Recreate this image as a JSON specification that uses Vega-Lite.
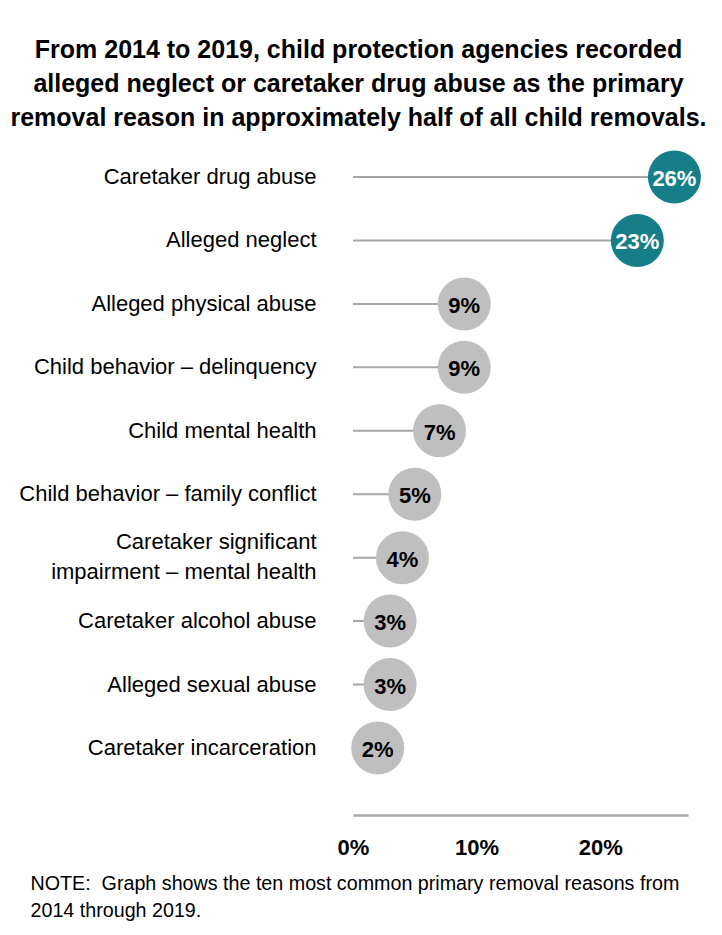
{
  "$schema": "https://vega.github.io/schema/vega-lite/v6.json",
  "autosize": {"type": "none"},
  "width": 335,
  "height": 634.4,
  "padding": {"left": 353, "top": 145.3, "right": 34, "bottom": 155.3},
  "background": "white",
  "config": {
    "view": {"stroke": null},
    "font": "Liberation Sans, Arial, sans-serif"
  },
  "title": {
    "text": ["From 2014 to 2019, child protection agencies recorded", "alleged neglect or caretaker drug abuse as the primary", "removal reason in approximately half of all child removals."],
    "fontSize": 25,
    "lineHeight": 34,
    "fontWeight": "bold",
    "color": "black",
    "anchor": "middle",
    "frame": "group",
    "dx": -162,
    "offset": 14
  },
  "data": {
    "values": [
      {"reason": "Caretaker drug abuse", "pct": 0.26},
      {"reason": "Alleged neglect", "pct": 0.23},
      {"reason": "Alleged physical abuse", "pct": 0.09},
      {"reason": "Child behavior – delinquency", "pct": 0.09},
      {"reason": "Child mental health", "pct": 0.07},
      {"reason": "Child behavior – family conflict", "pct": 0.05},
      {"reason": "Caretaker significant|impairment – mental health", "pct": 0.04},
      {"reason": "Caretaker alcohol abuse", "pct": 0.03},
      {"reason": "Alleged sexual abuse", "pct": 0.03},
      {"reason": "Caretaker incarceration", "pct": 0.02}
    ]
  },
  "encoding": {
    "y": {
      "field": "reason",
      "type": "nominal",
      "sort": null,
      "scale": {"paddingInner": 0, "paddingOuter": 0},
      "axis": {
        "title": null,
        "domain": false,
        "ticks": false,
        "labelPadding": 37,
        "labelFontSize": 22,
        "labelColor": "black",
        "labelLimit": 400,
        "labelLineHeight": 30,
        "labelOffset": {"condition": {"test": "indexof(datum.value, '|') >= 0", "value": -16}, "value": 0},
        "labelExpr": "split(datum.label, '|')"
      }
    }
  },
  "layer": [
    {
      "mark": {"type": "rule", "color": "#a6a6a6", "strokeWidth": 2},
      "encoding": {
        "x": {
          "field": "pct",
          "type": "quantitative",
          "scale": {"domain": [0, 0.271], "nice": false, "zero": true},
          "axis": {
            "values": [0, 0.1, 0.2],
            "format": ".0%",
            "grid": false,
            "ticks": false,
            "domainColor": "#a6a6a6",
            "domainWidth": 2.5,
            "offset": 35.3,
            "labelFontSize": 22,
            "labelFontWeight": "bold",
            "labelColor": "black",
            "labelPadding": 22,
            "labelFlush": false,
            "title": ["NOTE:\u00a0 Graph shows the ten most common primary removal reasons from", "2014 through 2019."],
            "titleFontSize": 19.7,
            "titleFontWeight": "normal",
            "titleColor": "black",
            "titleLineHeight": 27,
            "titleAnchor": "start",
            "titleAlign": "left",
            "titleBaseline": "top",
            "titleX": -323,
            "titleY": 58
          }
        },
        "x2": {"datum": 0}
      }
    },
    {
      "mark": {"type": "circle", "size": 2810, "opacity": 1},
      "encoding": {
        "x": {"field": "pct", "type": "quantitative"},
        "color": {
          "condition": {"test": "datum.pct > 0.2", "value": "#167e88"},
          "value": "#bfbfbf"
        }
      }
    },
    {
      "mark": {"type": "text", "fontSize": 22, "fontWeight": "bold", "baseline": "middle", "align": "center", "dy": 2},
      "encoding": {
        "x": {"field": "pct", "type": "quantitative"},
        "text": {"field": "pct", "type": "quantitative", "format": ".0%"},
        "color": {
          "condition": {"test": "datum.pct > 0.2", "value": "white"},
          "value": "black"
        }
      }
    }
  ]
}
